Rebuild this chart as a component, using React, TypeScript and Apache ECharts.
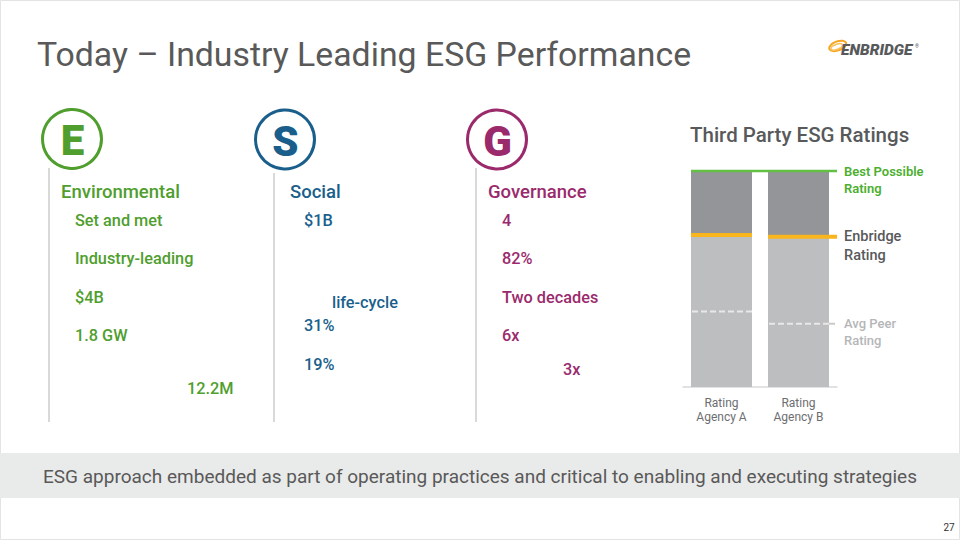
import React, { useEffect, useRef } from 'react';
import * as echarts from 'echarts';

// ---------- data ----------
const agencies = ['Rating\nAgency A', 'Rating\nAgency B'];
const bestPossible = [100, 100];
const enbridgeRating = [70.4, 69.6];
const avgPeerRating = [34.9, 29.3];

const pillarLetters = ['E', 'S', 'G'];
const pillarNames = ['Environmental', 'Social', 'Governance'];
const envItems = ['Set and met', 'Industry-leading', '$4B', '1.8 GW', '12.2M'];
const socialItems = ['$1B', 'life-cycle', '31%', '19%'];
const govItems = ['4', '82%', 'Two decades', '6x', '3x'];

const slideTitle = 'Today – Industry Leading ESG Performance';
const chartTitle = 'Third Party ESG Ratings';
const footerText =
  'ESG approach embedded as part of operating practices and critical to enabling and executing strategies';
const pageNumber = '27';
const logoText = 'ENBRIDGE';

const labelBest = 'Best Possible\nRating';
const labelEnbridge = 'Enbridge\nRating';
const labelPeer = 'Avg Peer\nRating';

// ---------- layout ----------
const FONT = 'Roboto, "Liberation Sans", Arial, sans-serif';
const pillarLayout = [
  { color: '#4f9e2e', cx: 72, cy: 139, lineX: 49, lineTop: 168, nameX: 61, items: envItems,
    pos: [[75, 220], [75, 258], [75, 297], [75, 335], [187, 388]] },
  { color: '#1a5f8c', cx: 285, cy: 139.5, lineX: 274, lineTop: 173, nameX: 290, items: socialItems,
    pos: [[304, 220], [332, 302], [304, 325], [304, 364]] },
  { color: '#9a2a6c', cx: 497, cy: 139.5, lineX: 476, lineTop: 168, nameX: 488, items: govItems,
    pos: [[502, 220], [502, 258], [502, 297], [502, 335], [563, 369]] },
];

const BAR_HALF = 30.5;

function lineSeries(
  values: number[],
  mode: 'span' | 'bar' | 'dash',
  color: string,
  width: number,
  label: string,
  labelColor: string,
  labelSize: number,
  labelLH: number,
  labelWeight: number | string
) {
  return {
    type: 'custom',
    silent: true,
    z: 10,
    data: values.map((v, i) => [i, v]),
    renderItem: (params: any, api: any) => {
      const i = api.value(0);
      const p = api.coord([i, api.value(1)]);
      const band = api.size([1, 0])[0];
      const cs = params.coordSys;
      const right = cs.x + cs.width;
      const last = i === values.length - 1;
      const children: any[] = [];
      if (mode === 'span') {
        const x1 = i === 0 ? p[0] - BAR_HALF : p[0] - band / 2;
        const x2 = p[0] + band / 2;
        children.push({ type: 'line', shape: { x1, y1: p[1], x2, y2: p[1] }, style: { stroke: color, lineWidth: width } });
      } else if (mode === 'bar') {
        const x2 = last ? right : p[0] + BAR_HALF;
        children.push({ type: 'line', shape: { x1: p[0] - BAR_HALF, y1: p[1], x2, y2: p[1] }, style: { stroke: color, lineWidth: width } });
      } else {
        children.push({
          type: 'line',
          shape: { x1: p[0] - BAR_HALF + 1, y1: p[1], x2: p[0] + BAR_HALF, y2: p[1] },
          style: { stroke: '#e8e8e8', lineWidth: width, lineDash: [6, 3] },
        });
        if (last) {
          children.push({
            type: 'line',
            shape: { x1: p[0] + BAR_HALF, y1: p[1], x2: right + 1, y2: p[1] },
            style: { stroke: '#c9c9c9', lineWidth: width, lineDash: [6, 3] },
          });
        }
      }
      if (last) {
        children.push({
          type: 'text',
          x: right + 7,
          y: p[1] - labelLH / 2,
          style: {
            text: label,
            fill: labelColor,
            fontSize: labelSize,
            fontWeight: labelWeight,
            fontFamily: FONT,
            lineHeight: labelLH,
            verticalAlign: 'top',
            align: 'left',
          },
        });
      }
      return { type: 'group', children };
    },
  };
}

function buildGraphic() {
  const g: any[] = [];
  g.push({ type: 'rect', shape: { x: 0.5, y: 0.5, width: 959, height: 539 }, style: { fill: 'none', stroke: '#e3e3e3', lineWidth: 1 } });
  // slide title
  g.push({
    type: 'text', x: 37, y: 54,
    style: { text: slideTitle, fill: '#595959', fontSize: 33.8, fontFamily: FONT, verticalAlign: 'middle' },
  });
  // logo
  g.push({ type: 'ellipse', shape: { cx: 838, cy: 46, rx: 9, ry: 4.5 }, rotation: 0.35, originX: 838, originY: 46,
    style: { fill: 'none', stroke: '#f5a623', lineWidth: 2 } });
  g.push({ type: 'ellipse', shape: { cx: 837, cy: 47, rx: 6, ry: 2.5 }, rotation: 0.35, originX: 837, originY: 47,
    style: { fill: 'none', stroke: '#f8c15a', lineWidth: 1.5 } });
  g.push({
    type: 'text', x: 841, y: 50,
    style: { text: logoText, fill: '#58595b', fontSize: 15.5, fontStyle: 'italic', fontWeight: 900, fontFamily: FONT, verticalAlign: 'middle' },
  });
  g.push({ type: 'text', x: 915, y: 46, style: { text: '®', fill: '#58595b', fontSize: 5, fontFamily: FONT, verticalAlign: 'middle' } });

  // pillars
  pillarLayout.forEach((pl, k) => {
    g.push({ type: 'line', shape: { x1: pl.lineX, y1: pl.lineTop, x2: pl.lineX, y2: 422 }, style: { stroke: '#d9d9d9', lineWidth: 2 } });
    g.push({ type: 'circle', shape: { cx: pl.cx, cy: pl.cy, r: 29.5 }, style: { fill: '#fff', stroke: pl.color, lineWidth: 3 } });
    g.push({
      type: 'text', x: pl.cx + 0.5, y: pl.cy + 1.5,
      style: { text: pillarLetters[k], fill: pl.color, fontSize: 42, fontWeight: 900, fontFamily: FONT, align: 'center', verticalAlign: 'middle' },
    });
    g.push({
      type: 'text', x: pl.nameX, y: 192,
      style: { text: pillarNames[k], fill: pl.color, fontSize: 18.5, fontWeight: 500, fontFamily: FONT, verticalAlign: 'middle' },
    });
    pl.items.forEach((t, j) => {
      g.push({
        type: 'text', x: pl.pos[j][0], y: pl.pos[j][1],
        style: { text: t, fill: pl.color, fontSize: 16.3, fontWeight: 500, fontFamily: FONT, verticalAlign: 'middle' },
      });
    });
  });

  // footer band
  g.push({ type: 'rect', shape: { x: 0, y: 453, width: 960, height: 45 }, style: { fill: '#e9eaea' } });
  g.push({
    type: 'text', x: 480, y: 476,
    style: { text: footerText, fill: '#595959', fontSize: 19, fontFamily: FONT, align: 'center', verticalAlign: 'middle' },
  });
  g.push({
    type: 'text', x: 949, y: 527,
    style: { text: pageNumber, fill: '#333', fontSize: 10, fontFamily: FONT, align: 'center', verticalAlign: 'middle' },
  });
  return g;
}

export default function App() {
  const ref = useRef<HTMLDivElement>(null);
  useEffect(() => {
    if (!ref.current) return;
    const chart = echarts.init(ref.current, undefined, { renderer: 'svg' });
    chart.setOption({
      animation: false,
      backgroundColor: '#ffffff',
      title: {
        text: chartTitle,
        left: 685,
        top: 119,
        textStyle: { color: '#58595b', fontSize: 20.5, fontWeight: 500, fontFamily: FONT },
      },
      grid: { left: 683, top: 171, width: 154, height: 216, containLabel: false },
      xAxis: {
        type: 'category',
        data: agencies,
        axisLine: { lineStyle: { color: '#d9d9d9', width: 1.5 } },
        axisTick: { show: false },
        axisLabel: { color: '#6d6e71', fontSize: 12, lineHeight: 14, fontFamily: FONT, margin: 9 },
      },
      yAxis: { type: 'value', min: 0, max: 100, show: false, splitLine: { show: false } },
      graphic: buildGraphic(),
      series: [
        { type: 'bar', stack: 'r', data: enbridgeRating, barWidth: 61, itemStyle: { color: '#bcbec0' }, silent: true },
        {
          type: 'bar', stack: 'r', data: bestPossible.map((b, i) => b - enbridgeRating[i]),
          barWidth: 61, itemStyle: { color: '#939598' }, silent: true,
        },
        lineSeries(avgPeerRating, 'dash', '#e8e8e8', 2, labelPeer, '#b5b6b8', 13, 17, 500),
        lineSeries(enbridgeRating, 'bar', '#f9b51c', 4, labelEnbridge, '#58595b', 14.5, 19, 500),
        lineSeries(bestPossible, 'span', '#62c045', 2.5, labelBest, '#4caf30', 13, 17, 600),
      ],
    });
    return () => chart.dispose();
  }, []);
  return <div ref={ref} style={{ position: 'absolute', left: 0, top: 0, width: 960, height: 540 }} />;
}
